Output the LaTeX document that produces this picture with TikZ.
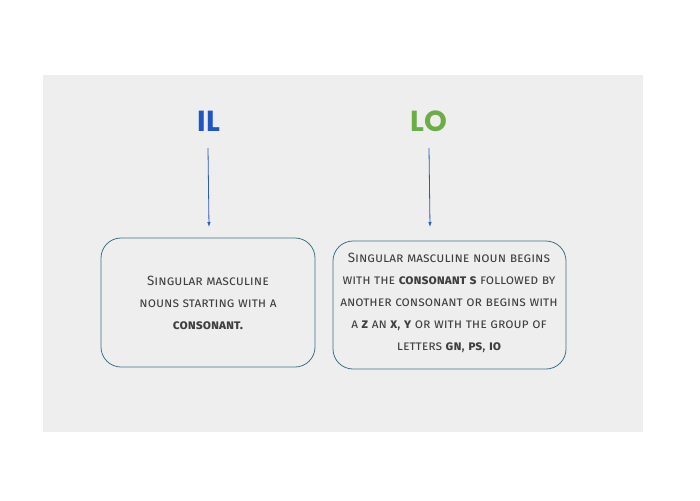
\documentclass[tikz,border=0pt]{standalone}
\usepackage{fontspec}
\usetikzlibrary{arrows.meta}
\setmainfont{Fira Sans}
\newfontfamily\titlefont{Poppins}[BoldFont={* Bold}]
\newfontfamily\boxfont{Fira Sans}[Letters=SmallCaps]
\definecolor{bgc}{HTML}{EEEEEE}
\definecolor{ilblue}{HTML}{1F56C6}
\definecolor{logreen}{HTML}{6AAE45}
\definecolor{arrowc}{HTML}{2A5CB8}
\definecolor{edgec}{HTML}{3C7389}
\definecolor{txtc}{HTML}{3F3F3F}
\begin{document}
\begin{tikzpicture}[x=1pt,y=-1pt,
  title/.style={font=\titlefont\bfseries\fontsize{29}{30}\selectfont},
  infobox/.style={draw=edgec, line width=0.8pt, fill=bgc, rounded corners=20pt},
  boxtext/.style={text=txtc, align=center, font=\boxfont\fontsize{13.4}{22}\selectfont},
  conn/.style={draw=arrowc, line width=0.8pt, -{Latex[length=5pt,width=3.5pt]}}]
\useasboundingbox (0,0) rectangle (700,500);
\fill[bgc] (43,75) rectangle (643,432);
\node[title, text=ilblue] (il) at (209,121) {IL};
\node[title, text=logreen] (lo) at (429,121) {LO};
\draw[infobox] (101,238) rectangle (315,367);
\draw[infobox] (333,241) rectangle (566,369);
\coordinate (la) at (208,148);
\coordinate (lb) at (209,227);
\coordinate (ra) at (429,148);
\coordinate (rb) at (430,227);
\draw[conn] (la) -- (lb);
\draw[conn] (ra) -- (rb);
\node[boxtext] (lt) at (208,303) {Singular masculine\\nouns starting with a\\\textbf{consonant.}};
\node[boxtext] (rt) at (449,303) {Singular masculine noun begins\\with the \textbf{consonant s} followed by\\another consonant or begins with\\a \textbf{z} an \textbf{x}, \textbf{y} or with the group of\\letters \textbf{gn}, \textbf{ps}, \textbf{io}};
\end{tikzpicture}
\end{document}
